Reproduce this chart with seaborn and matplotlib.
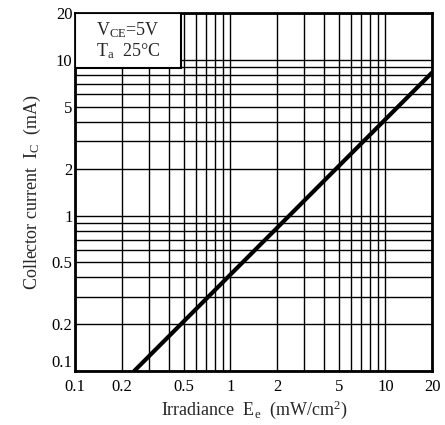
import matplotlib
matplotlib.use("Agg")
import matplotlib.pyplot as plt
import seaborn as sns
import pandas as pd
from matplotlib.ticker import FixedLocator, FixedFormatter, NullFormatter, LogLocator

# Data
irradiance = [0.24, 20.0]          # mW/cm^2
collector_current = [0.1, 8.3]     # mA
tick_values = [0.1, 0.2, 0.5, 1, 2, 5, 10, 20]
tick_labels = ["0.1", "0.2", "0.5", "1", "2", "5", "10", "20"]

sns.set_theme(style="white")
plt.rcParams['font.family'] = ['Liberation Serif', 'DejaVu Serif']
plt.rcParams['mathtext.fontset'] = 'custom'
plt.rcParams['mathtext.rm'] = 'Liberation Serif'
plt.rcParams['mathtext.it'] = 'Liberation Serif'

fig = plt.figure(figsize=(4.45, 4.25), dpi=100)
ax = fig.add_axes([0.169, 0.127, 0.802, 0.842])

df = pd.DataFrame({"E": irradiance, "I": collector_current})
sns.lineplot(data=df, x="E", y="I", ax=ax, color="black", linewidth=3, zorder=5)

ax.set_xscale("log")
ax.set_yscale("log")
ax.set_xlim(0.1, 20)
ax.set_ylim(0.1, 20)

for axis in (ax.xaxis, ax.yaxis):
    axis.set_major_locator(FixedLocator(tick_values))
    axis.set_major_formatter(FixedFormatter(tick_labels))
    axis.set_minor_locator(LogLocator(base=10, subs=range(1, 10)))
    axis.set_minor_formatter(NullFormatter())

ax.grid(True, which="both", color="black", linewidth=1.0, zorder=1)
ax.set_axisbelow(True)
ax.tick_params(which="both", length=0, labelsize=12, colors="black")
ax.tick_params(axis="x", pad=6)
ax.tick_params(axis="y", pad=2)
# lift the y "0.1" label slightly so it clears the x "0.1" label
for lbl in ax.get_yticklabels():
    if lbl.get_text() == "0.1":
        lbl.set_va("bottom")

for s in ax.spines.values():
    s.set_color("black")
    s.set_linewidth(2)

# condition box
box = plt.Rectangle((0.0, 0.848), 0.296, 0.152, transform=ax.transAxes,
                    facecolor="white", edgecolor="black", linewidth=1.5, zorder=3)
ax.add_patch(box)
ax.text(0.148, 0.952, r"V$_\mathrm{CE}$=5V", transform=ax.transAxes,
        ha="center", va="center", fontsize=13, zorder=4)
ax.text(0.148, 0.893, "T", transform=ax.transAxes,
        ha="right", va="center", fontsize=13, zorder=4, alpha=0)
ax.text(0.148, 0.893, r"T$_\mathrm{a}$  25°C", transform=ax.transAxes,
        ha="center", va="center", fontsize=13, zorder=4)

ax.set_xlabel(r"Irradiance  E$_\mathrm{e}$  (mW/cm$^2$)", fontsize=13, labelpad=2)
ax.set_ylabel(r"Collector current  I$_\mathrm{C}$  (mA)", fontsize=13, labelpad=6)

fig.savefig("out.png", dpi=100)
